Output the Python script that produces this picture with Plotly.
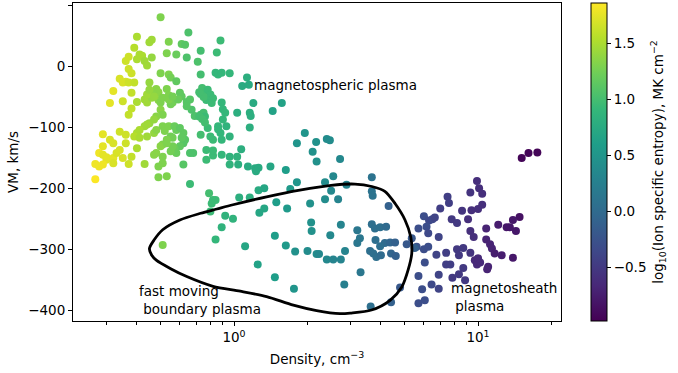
import numpy as np
import plotly.graph_objects as go

# ---- data (density cm^-3, VM km/s, log10 entropy) by region ----
dA1 = [0.50,0.40,0.45,0.46,0.54,0.65,0.61,0.63,0.39,0.53,0.58,0.41,0.42,0.46,0.64,0.37,0.36,0.40,0.43,0.44,
       0.37,0.38,0.50,0.54,0.55,0.58,0.34,0.35,0.36,0.37,0.39,0.45,0.32,0.38,0.48,0.49,0.47,0.53,0.54,0.60,
       0.61,0.31,0.35,0.40,0.43,0.44,0.46,0.49,0.50,0.55,0.56,0.59,0.64,0.66,0.38,0.37,0.67,0.69]
vA1 = [81,49,40,44,41,56,37,36,31,22,20,20,18,15,15,16,9,12,9,2,
       -4,-11,-11,-13,-18,-24,-20,-26,-25,-26,-26,-26,-40,-43,-37,-42,-46,-37,-47,-43,
       -49,-60,-57,-58,-54,-59,-51,-55,-59,-62,-59,-54,-58,-54,-69,-79,-71,-81]
eA1 = [1.30,1.50,1.45,1.45,1.30,1.05,1.15,1.10,1.55,1.30,1.20,1.50,1.50,1.40,1.05,1.65,1.65,1.50,1.45,1.45,
       1.65,1.65,1.30,1.30,1.25,1.15,1.70,1.70,1.70,1.65,1.60,1.40,1.75,1.60,1.35,1.35,1.35,1.30,1.30,1.15,
       1.15,1.75,1.65,1.50,1.45,1.45,1.40,1.35,1.30,1.25,1.25,1.20,1.10,1.10,1.60,1.60,1.05,1.05]

dA2 = [0.44,0.45,0.47,0.51,0.54,0.56,0.64,0.73,0.75,0.76]
vA2 = [-46,-38,-49,-51,-54,-49,-65,-79,-76,-82]
eA2 = [1.45,1.40,1.40,1.30,1.30,1.25,1.10,1.00,1.00,0.95]

dB = [0.50,0.51,0.48,0.47,0.45,0.44,0.43,0.41,0.40,0.39,0.41,0.44,0.47,0.48,0.51,0.52,0.54,0.55,0.56,0.53,
      0.51,0.50,0.48,0.51,0.57,0.62,0.63,0.62,0.60,0.58,0.57,0.66,0.73,0.78,0.80,0.86,0.88,0.82,0.89,0.93,
      0.96,0.77,0.82,0.89,0.96,0.96,1.04,1.14]
vB = [-71,-79,-82,-87,-93,-95,-98,-104,-109,-115,-117,-115,-109,-104,-98,-106,-98,-115,-117,-120,
      -128,-131,-142,-148,-98,-109,-120,-126,-131,-142,-134,-142,-112,-101,-115,-98,-109,-120,-120,-98,
      -115,-137,-146,-145,-148,-161,-161,-164]
eB = [1.35,1.30,1.35,1.40,1.40,1.45,1.45,1.50,1.50,1.55,1.50,1.45,1.40,1.35,1.30,1.30,1.30,1.25,1.25,1.30,
      1.30,1.35,1.35,1.30,1.20,1.15,1.10,1.10,1.15,1.20,1.20,1.05,1.00,0.95,0.95,0.90,0.90,0.95,0.90,0.85,
      0.85,0.95,0.95,0.90,0.85,0.85,0.80,0.75]

dC = [0.29,0.31,0.32,0.34,0.36,0.36,0.29,0.28,0.29,0.30,0.30,0.32,0.33,0.34,0.27,0.28,0.29,0.32,0.35,0.37,
      0.38,0.27,0.40,0.43,0.47,0.49,0.51,0.49,0.53,0.55,0.56,0.53,0.58,0.60,0.61,0.62,0.68,0.66]
vC = [-111,-120,-126,-107,-112,-126,-131,-142,-145,-149,-153,-150,-142,-137,-160,-164,-161,-159,-150,-160,
      -148,-185,-134,-160,-145,-164,-159,-182,-180,-139,-131,-126,-104,-101,-117,-161,-142,-193]
eC = [1.75,1.70,1.70,1.65,1.65,1.65,1.75,1.80,1.75,1.75,1.75,1.75,1.70,1.70,1.80,1.80,1.80,1.70,1.70,1.65,
      1.60,1.85,1.50,1.45,1.35,1.30,1.30,1.30,1.30,1.25,1.25,1.30,1.20,1.15,1.15,1.10,1.05,0.95]

dD = [0.88,0.85,0.73,0.71,0.73,0.84,0.86,0.89,0.96,1.13,1.08,1.15,0.74,0.76,0.73,0.78,0.80,0.82,0.77,0.81,
      0.75,0.72,1.20,1.57,1.44,0.89,0.90,0.92,0.90,1.03,1.16,1.17,1.16,0.72,0.74,0.76,0.86,1.07,0.82,1.03,
      1.95,1.81,2.17,2.40,2.47,2.10,2.18,2.72]
vD = [43,23,26,8,-13,-10,-13,-10,-11,-18,-32,-30,-35,-40,-45,-38,-46,-52,-55,-60,
      -50,-42,-60,-60,-73,-59,-70,-76,-87,-76,-76,-81,-100,-82,-86,-92,-103,-136,-138,-148,
      -109,-126,-124,-119,-121,-140,-156,-152]
eD = [0.95,0.95,1.00,1.05,1.00,0.90,0.90,0.90,0.90,0.80,0.75,0.75,1.00,1.00,1.00,0.95,0.95,0.95,0.95,0.95,
      1.00,1.00,0.75,0.65,0.65,0.90,0.90,0.90,0.90,0.80,0.80,0.80,0.80,1.00,1.00,1.00,0.90,0.80,0.95,0.85,
      0.50,0.50,0.45,0.40,0.40,0.45,0.45,0.35]

dE = [0.77,1.22,1.26,1.23,1.41,1.63,1.81,1.70,2.05,0.82,0.84,0.81,0.80,1.05,1.16,1.26,1.33,1.49,1.33,1.27,
      1.65,0.92,0.99,0.89,0.84,1.47,1.11,1.63,1.78,1.25,1.47,1.76,0.51,0.79]
vE = [-153,-167,-166,-172,-164,-170,-190,-201,-225,-219,-219,-225,-238,-215,-215,-203,-200,-223,-233,-240,
      -233,-245,-250,-264,-284,-278,-295,-294,-304,-325,-346,-365,-293,-208]
eE = [0.95,0.75,0.75,0.75,0.70,0.60,0.50,0.55,0.45,0.95,0.95,0.95,0.95,0.80,0.80,0.75,0.70,0.60,0.70,0.70,
      0.55,0.85,0.85,0.85,0.90,0.60,0.70,0.55,0.45,0.65,0.60,0.50,1.30,1.00]

dF = [2.36,2.55,2.89,3.67,2.50,3.67,3.70,2.36,2.67,4.30,2.07,2.08,2.74,3.20,3.67,3.78,3.97,4.20,2.48,3.28,
      3.20,3.80,4.15,3.97,4.36,4.57,5.10,5.35,5.60,2.00,2.18,2.23,2.40,2.55,2.74,2.85,3.61,3.72,3.83,4.00,
      4.40,4.60,3.30,2.83,4.79,4.40,3.63]
vF = [-190,-180,-194,-182,-204,-205,-212,-218,-218,-229,-256,-270,-260,-269,-259,-266,-264,-263,-277,-282,
      -290,-285,-290,-295,-289,-289,-292,-282,-296,-303,-308,-308,-317,-317,-317,-303,-303,-307,-313,-310,
      -307,-311,-338,-358,-363,-387,-394]
eF = [0.40,0.35,0.30,0.10,0.35,0.10,0.10,0.40,0.30,-0.10,0.45,0.45,0.30,0.15,0.05,0.05,0.05,0.00,0.35,0.15,
      0.15,0.05,0.00,0.05,-0.05,-0.10,-0.20,-0.20,-0.25,0.40,0.40,0.35,0.35,0.30,0.30,0.30,0.05,0.05,0.05,0.00,
      -0.05,-0.10,0.15,0.25,-0.20,-0.10,0.05]

dG = [15.1,16.1,17.5,9.9,10.1,10.4,9.3,7.5,7.6,7.0,8.6,9.4,10.0,10.4,6.0,6.3,6.5,6.65,7.8,8.2,
      9.1,14.8,13.9,14.3,12.1,13.1,13.5,10.8,5.7,6.15,6.25,9.3,9.6,6.9,10.8,11.2,11.4,11.7,12.5,13.9,
      5.5,6.0,6.25,8.2,8.7,9.3,6.75,7.4,8.35,9.7,9.9,10.2,10.0,11.0,10.9,6.05,7.4,7.7,8.7,5.7,
      6.9,7.85,8.35,8.85,5.9,6.45,6.9,5.7,6.05]
vG = [-150,-142,-141,-188,-200,-209,-207,-214,-224,-233,-237,-236,-234,-227,-246,-253,-251,-248,-251,-257,
      -251,-247,-252,-270,-260,-264,-264,-266,-266,-263,-274,-270,-280,-280,-284,-292,-299,-307,-310,-314,
      -298,-300,-296,-300,-298,-306,-309,-306,-310,-318,-325,-322,-315,-329,-333,-322,-325,-325,-331,-344,
      -342,-347,-341,-351,-366,-358,-365,-389,-384]
eG = [-0.95,-0.95,-0.95,-0.60,-0.60,-0.60,-0.55,-0.45,-0.45,-0.45,-0.55,-0.60,-0.60,-0.60,-0.30,-0.35,-0.35,-0.40,-0.50,-0.50,
      -0.60,-0.85,-0.80,-0.80,-0.75,-0.80,-0.80,-0.70,-0.30,-0.30,-0.35,-0.60,-0.60,-0.40,-0.70,-0.70,-0.70,-0.75,-0.75,-0.80,
      -0.10,-0.30,-0.30,-0.50,-0.50,-0.55,-0.40,-0.45,-0.50,-0.65,-0.65,-0.65,-0.65,-0.70,-0.70,-0.30,-0.45,-0.45,-0.50,-0.30,
      -0.40,-0.50,-0.50,-0.50,-0.30,-0.35,-0.40,-0.30,-0.30]

# closed contour outlining fast moving boundary plasma
loop_density = [3.0, 2.72, 2.18, 1.75, 1.36, 1.06, 0.82, 0.64, 0.55, 0.48, 0.46, 0.45, 0.47, 0.51, 0.60,
                0.73, 0.85, 0.99, 1.36, 1.86, 2.5, 3.13, 3.67, 4.15, 4.57, 5.02, 5.3, 5.35, 5.17, 4.87,
                4.36, 3.66, 3.0]
loop_vm = [-405, -406, -401, -392, -378, -369, -361, -345, -332, -318, -310, -299, -285, -268, -252,
           -241, -234, -227, -214, -203, -195, -193, -197, -205, -225, -252, -280, -307, -334, -362,
           -384, -400, -405]

x_tick_vals = [1, 10]
x_tick_text = ["10<sup>0</sup>", "10<sup>1</sup>"]
x_minor_vals = [0.3, 0.4, 0.5, 0.6, 0.7, 0.8, 0.9, 2, 3, 4, 5, 6, 7, 8, 9, 20]
y_tick_vals = [-400, -300, -200, -100, 0, 100]
cbar_ticks = [-0.5, 0.0, 0.5, 1.0, 1.5]

groups = [(dA1, vA1, eA1), (dA2, vA2, eA2), (dB, vB, eB), (dC, vC, eC), (dD, vD, eD),
          (dE, vE, eE), (dF, vF, eF), (dG, vG, eG)]
density, vm, entropy = [], [], []
for d, v, e in groups:
    assert len(d) == len(v) == len(e), (len(d), len(v), len(e))
    density += d
    vm += v
    entropy += e

FONT = "DejaVu Sans"
fig = go.Figure()
fig.add_trace(go.Scatter(
    x=density, y=vm, mode="markers",
    marker=dict(size=8, color=entropy, colorscale="Viridis", cmin=-0.98, cmax=1.86,
                line=dict(width=0),
                colorbar=dict(
                    x=1.0615, xanchor="left", xpad=0, ypad=0, y=0.5, yanchor="middle",
                    len=1, lenmode="fraction", thickness=16,
                    outlinecolor="black", outlinewidth=1,
                    tickvals=cbar_ticks, tickformat=".1f", ticks="outside", ticklen=4,
                    tickcolor="black", tickfont=dict(family=FONT, size=13.5, color="black"),
                    title=dict(text="log<sub>10</sub>(Ion specific entropy), MK cm<sup>−2</sup>",
                               side="right", font=dict(family=FONT, size=13.5, color="black")),
                )),
    showlegend=False, hoverinfo="skip"))

fig.add_trace(go.Scatter(
    x=loop_density, y=loop_vm, mode="lines",
    line=dict(color="black", width=2.8, shape="spline", smoothing=0.8),
    showlegend=False, hoverinfo="skip"))

ann_font = dict(family=FONT, size=13.5, color="black")
fig.add_annotation(x=np.log10(1.19), y=-31, text="magnetospheric plasma", showarrow=False,
                   xanchor="left", yanchor="middle", font=ann_font)
fig.add_annotation(x=np.log10(0.40), y=-383, text="fast moving<br>\u00a0boundary plasma", showarrow=False,
                   xanchor="left", yanchor="middle", align="left", font=ann_font)
fig.add_annotation(x=np.log10(7.62), y=-378, text="magnetosheath<br>\u00a0plasma", showarrow=False,
                   xanchor="left", yanchor="middle", align="left", font=ann_font)

fig.update_layout(
    width=678, height=373,
    margin=dict(l=73, r=117, t=3, b=52, autoexpand=False),
    plot_bgcolor="white", paper_bgcolor="white",
    font=dict(family=FONT, size=13.5, color="black"),
    showlegend=False,
)
fig.update_xaxes(
    type="log", range=[-0.66, 1.34], showgrid=False, zeroline=False, automargin=False,
    showline=True, linecolor="black", linewidth=1, mirror=True,
    ticks="outside", ticklen=4, tickcolor="black",
    tickvals=x_tick_vals, ticktext=x_tick_text,
    minor=dict(ticks="outside", ticklen=2.5, tickcolor="black", tickvals=x_minor_vals, showgrid=False),
    title=dict(text="Density, cm<sup>−3</sup>", standoff=10, font=dict(family=FONT, size=13.5)),
)
fig.update_yaxes(
    range=[-418, 104.5], showgrid=False, zeroline=False, automargin=False,
    showline=True, linecolor="black", linewidth=1, mirror=True,
    ticks="outside", ticklen=4, tickcolor="black",
    tickvals=y_tick_vals,
    title=dict(text="VM, km/s", standoff=6, font=dict(family=FONT, size=13.5)),
)

fig.write_html("out.html", config={"displayModeBar": False},
               post_script="document.body.style.margin='0';")
